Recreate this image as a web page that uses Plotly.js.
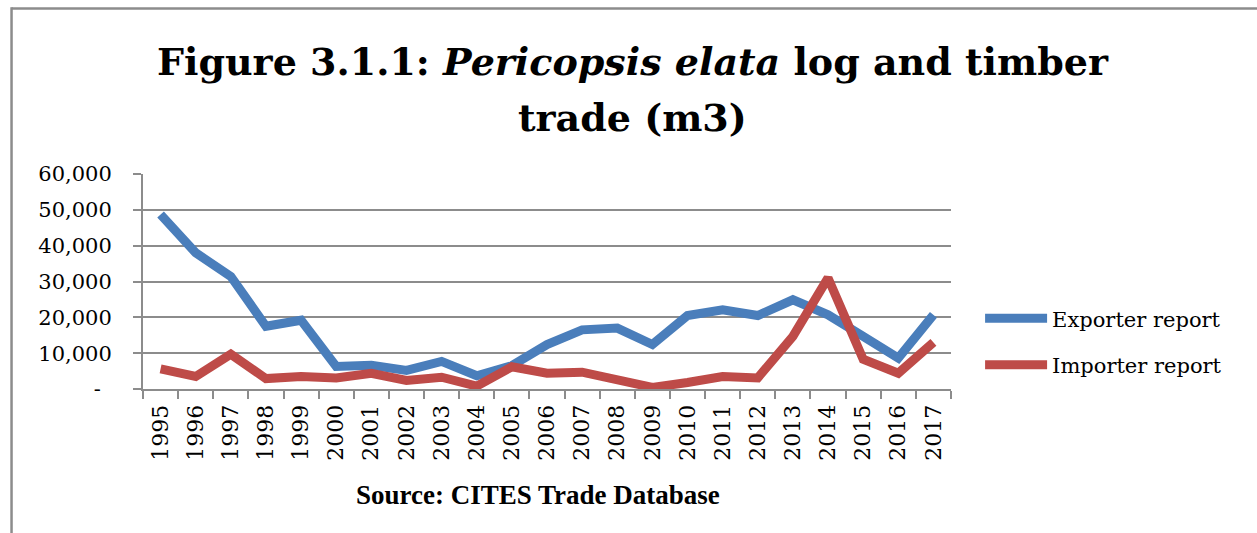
<!DOCTYPE html>
<html>
<head>
<meta charset="utf-8">
<script src="https://cdn.plot.ly/plotly-3.0.1.min.js"></script>
<style>
  html, body { margin: 0; padding: 0; background: #ffffff; }
  #chart { width: 1257px; height: 533px; }
</style>
</head>
<body>
<div id="chart"></div>
<script>
const years = ["1995","1996","1997","1998","1999","2000","2001","2002","2003","2004","2005","2006",
               "2007","2008","2009","2010","2011","2012","2013","2014","2015","2016","2017"];
const exporterReport = [48700, 38000, 31400, 17500, 19200, 6300, 6600, 5200, 7700, 3700, 6500, 12400,
                        16500, 17000, 12400, 20500, 22100, 20500, 24900, 20700, 14700, 8600, 20700];
const importerReport = [5600, 3500, 9700, 2900, 3500, 3100, 4400, 2400, 3300, 800, 6200, 4400,
                        4700, 2300, 450, 1800, 3500, 3100, 14700, 31000, 8300, 4400, 13000];
const yTickVals = [0, 10000, 20000, 30000, 40000, 50000, 60000];
const yTickText = ["-\u00a0\u2009", "10,000", "20,000", "30,000", "40,000", "50,000", "60,000"];

const serif = "DejaVu Serif, Liberation Serif, serif";
const gridGray = "#8c8c8c";

const traces = [
  { x: years, y: exporterReport, type: "scatter", mode: "lines", name: "Exporter report",
    legendgroup: "a", line: { color: "#4a7ebb", width: 9 } },
  { x: years, y: importerReport, type: "scatter", mode: "lines", name: "Importer report",
    legendgroup: "b", line: { color: "#be4b48", width: 9 } }
];

const layout = {
  width: 1257, height: 533,
  margin: { l: 143, r: 306, t: 174, b: 144 },
  paper_bgcolor: "#ffffff", plot_bgcolor: "#ffffff",
  font: { family: serif, size: 21, color: "#000000" },
  showlegend: true,
  legend: { x: 1.036, xanchor: "left", y: 0.22, yanchor: "middle", itemwidth: 62,
            font: { family: serif, size: 21, color: "#000" },
            tracegroupgap: 16, bgcolor: "rgba(0,0,0,0)" },
  xaxis: { type: "category", range: [-0.5, 22.5], tickson: "boundaries", ticks: "outside", ticklen: 8,
           tickcolor: gridGray, tickwidth: 2, showline: true, linecolor: gridGray, linewidth: 2,
           showgrid: false, tickangle: -90, fixedrange: true, ticklabelstandoff: 5,
           tickfont: { family: serif, size: 22, color: "#000" } },
  yaxis: { range: [0, 60000], tickvals: yTickVals, ticktext: yTickText, ticks: "outside",
           ticklen: 8, tickcolor: gridGray, tickwidth: 2, showline: true, linecolor: gridGray,
           linewidth: 2, showgrid: true, gridcolor: gridGray, gridwidth: 2, zeroline: false,
           ticklabelstandoff: 17, fixedrange: true,
           tickfont: { family: serif, size: 21, color: "#000" } },
  annotations: [
    { text: "<b>Figure 3.1.1: <i>Pericopsis elata</i> log and timber</b>", xref: "paper", yref: "paper",
      x: 0.606, y: 1.525, xanchor: "center", yanchor: "middle", showarrow: false,
      font: { family: "DejaVu Serif", size: 38, color: "#000" } },
    { text: "<b>trade (m3)</b>", xref: "paper", yref: "paper",
      x: 0.606, y: 1.265, xanchor: "center", yanchor: "middle", showarrow: false,
      font: { family: "DejaVu Serif", size: 38, color: "#000" } },
    { text: "<b>Source: CITES Trade Database</b>", xref: "paper", yref: "paper",
      x: 0.489, y: -0.493, xanchor: "center", yanchor: "middle", showarrow: false,
      font: { family: "Liberation Serif", size: 27, color: "#000" } }
  ],
  shapes: [
    { type: "line", xref: "paper", yref: "paper", x0: -0.1627, x1: 1.4, y0: 1.770, y1: 1.770,
      line: { color: gridGray, width: 2.5 } },
    { type: "line", xref: "paper", yref: "paper", x0: -0.1627, x1: -0.1627, y0: 1.776, y1: -0.7,
      line: { color: gridGray, width: 2.5 } }
  ]
};

Plotly.newPlot("chart", traces, layout, { staticPlot: true, displayModeBar: false });
</script>
</body>
</html>
